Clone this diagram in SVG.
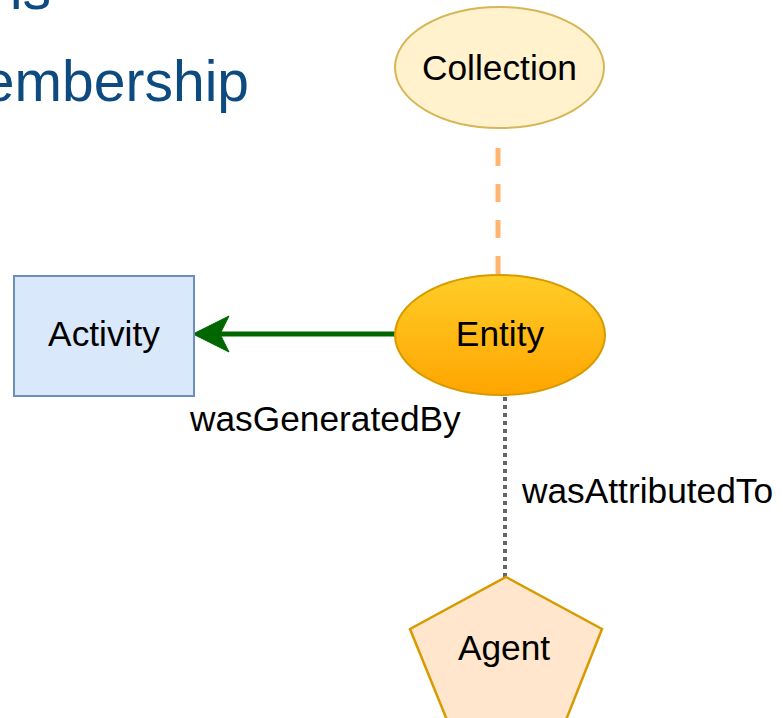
<svg xmlns="http://www.w3.org/2000/svg" width="783" height="718" viewBox="0 0 783 718">
  <defs>
    <linearGradient id="entityFill" x1="0" y1="0" x2="0" y2="1">
      <stop offset="0" stop-color="#ffcd28"/>
      <stop offset="1" stop-color="#ffa500"/>
    </linearGradient>
  </defs>
  <style>
    .lbl { font-family: "Liberation Sans", Arial, sans-serif; font-size: 35.3px; fill: #000; }
    .node { text-anchor: middle; }
    .title { font-family: "Liberation Sans", Arial, sans-serif; font-size: 57px; fill: #0d4a80; text-anchor: end; }
  </style>
  <rect width="783" height="718" fill="#ffffff"/>

  <g id="title">
    <text class="title" x="51" y="9">ns</text>
    <text class="title" x="249" y="101">embership</text>
  </g>

  <g id="connectors">
    <!-- Collection to Entity: dashed -->
    <line x1="498" y1="130" x2="498" y2="275" stroke="#ffb570" stroke-width="5" stroke-dasharray="18 18" stroke-dashoffset="18"/>
    <!-- Entity to Activity: wasGeneratedBy -->
    <line x1="396" y1="334" x2="218" y2="334" stroke="#006600" stroke-width="5"/>
    <path d="M193,334 L229,316 L220,334 L229,352 Z" fill="#006600" stroke="#006600" stroke-width="1"/>
    <!-- Entity to Agent: wasAttributedTo -->
    <line x1="505" y1="397" x2="505" y2="577" stroke="#666666" stroke-width="4" stroke-dasharray="4 4"/>
    <text class="lbl" x="190" y="431">wasGeneratedBy</text>
    <text class="lbl" x="522" y="503">wasAttributedTo</text>
  </g>

  <g id="collection">
    <ellipse cx="499.5" cy="67.5" rx="104.5" ry="60.5" fill="#fff2cc" stroke="#d6b656" stroke-width="2"/>
    <text class="lbl node" x="499.5" y="80">Collection</text>
  </g>

  <g id="entity">
    <ellipse cx="500" cy="335" rx="105" ry="60" fill="url(#entityFill)" stroke="#d79b00" stroke-width="2"/>
    <text class="lbl node" x="500" y="346">Entity</text>
  </g>

  <g id="activity">
    <rect x="14" y="276" width="180" height="120" fill="#dae8fc" stroke="#6c8ebf" stroke-width="2"/>
    <text class="lbl node" x="104" y="346">Activity</text>
  </g>

  <g id="agent">
    <polygon points="506,577 602,629 566,720 447,720 410,629" fill="#ffe6cc" stroke="#d79b00" stroke-width="2.5"/>
    <text class="lbl node" x="504" y="660">Agent</text>
  </g>
</svg>
